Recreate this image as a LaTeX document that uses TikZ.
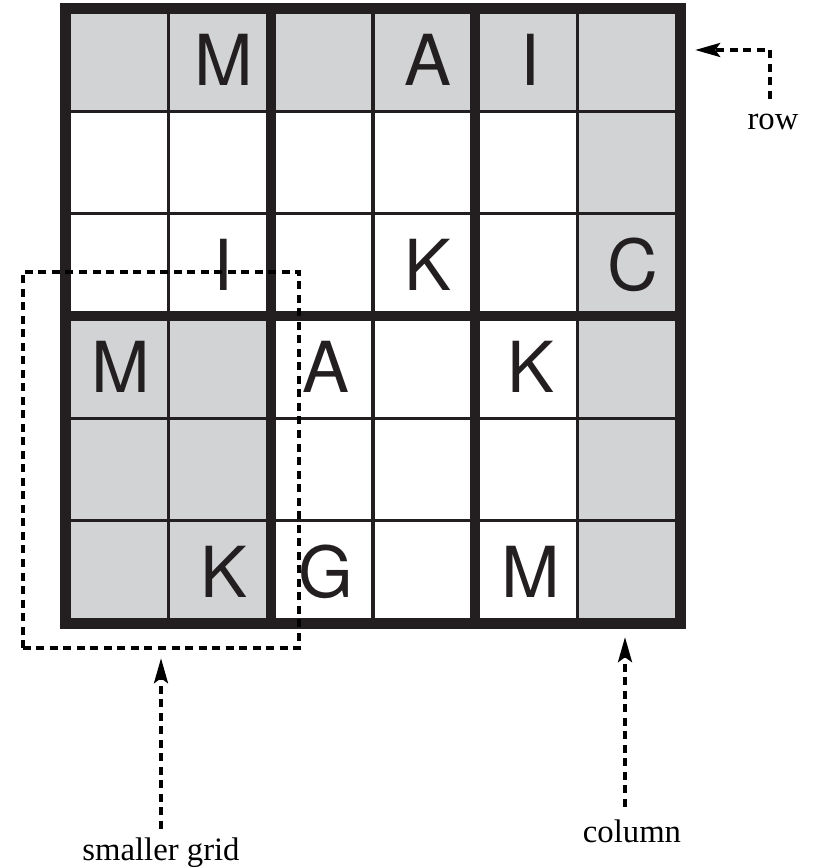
\documentclass[tikz,border=0pt]{standalone}
\usepackage{fontspec}
\setmainfont{Liberation Serif}
\newfontfamily\gridfont{TeX Gyre Heros}
\usetikzlibrary{arrows.meta, calc}
\definecolor{inkblack}{RGB}{35,31,32}
\definecolor{cellgray}{RGB}{209,211,212}
\tikzset{
  graycell/.style = {fill=cellgray, draw=none},
  thinline/.style = {draw=inkblack, line width=0.035cm},
  boxline/.style  = {draw=inkblack, line width=0.10cm},
  border/.style   = {rectangle, draw=inkblack, line width=0.11cm, minimum size=6.14cm, inner sep=0pt},
  dashbox/.style  = {rectangle, draw=black, line width=0.033cm, dash pattern=on 0.08cm off 0.055cm, inner sep=0pt},
  letter/.style   = {font=\gridfont\fontsize{20}{24}\selectfont, text=inkblack, inner sep=0pt},
  lbl/.style      = {font=\fontsize{9.3}{11}\selectfont, text=black, inner sep=0pt, anchor=base},
  pointer/.style  = {-{Stealth[length=0.25cm, width=0.14cm, inset=0.05cm]}, draw=black, line width=0.033cm, dash pattern=on 0.08cm off 0.055cm},
}
\def\cell{102.33}

\begin{document}
\begin{tikzpicture}[x=0.01cm, y=-0.01cm]
    \useasboundingbox (0,0) rectangle (812,868);

    % shaded row, column and box
    \fill[graycell] (66,9) rectangle (680,111);
    \fill[graycell] (578,9) rectangle (680,623);
    \fill[graycell] (66,316) rectangle (271,623);

    % thin cell lines
    \foreach \i in {1,3,5}{
      \draw[thinline] ({66+\i*\cell},9) -- ({66+\i*\cell},623);
    }
    \foreach \i in {1,2,4,5}{
      \draw[thinline] (66,{9+\i*\cell}) -- (680,{9+\i*\cell});
    }

    % box boundaries
    \foreach \i in {2,4}{
      \draw[boxline] ({66+\i*\cell},9) -- ({66+\i*\cell},623);
    }
    \draw[boxline] (66,{9+3*\cell}) -- (680,{9+3*\cell});

    % outer border
    \node[border] (board) at (373,316) {};

    % given letters
    \foreach \r/\c/\t in {1/2/M, 1/4/A, 1/5/I, 3/2/I, 3/4/K, 3/6/C,
                          4/1/M, 4/3/A, 4/5/K, 6/2/K, 6/3/G, 6/5/M}{
      \node[letter] (l\r\c) at ({66+(\c-0.5)*\cell+4},{9+(\r-0.5)*\cell}) {\t};
    }

    % smaller grid outline
    \node[dashbox, minimum width=2.76cm, minimum height=3.76cm] (smaller) at (161,460) {};

    % labels
    \node[lbl] (rowlbl)   at (773,130) {row};
    \node[lbl] (collbl)   at (632,842) {column};
    \node[lbl] (smalllbl) at (161,860) {smaller grid};
    \coordinate (rowbend) at (770,50);

    % pointers
    \draw[pointer, shorten <=0.15cm, shorten >=0.095cm]
      ([xshift=-0.03cm]rowlbl.north) |- (board.east |- rowbend);
    \draw[pointer, shorten <=0.12cm, shorten >=0.085cm]
      ([xshift=-0.07cm]collbl.north) -- ([xshift=-0.07cm]collbl.north |- board.south);
    \draw[pointer, shorten <=0.08cm, shorten >=0.085cm]
      (smalllbl.north) -- (smalllbl.north |- smaller.south);
\end{tikzpicture}
\end{document}
